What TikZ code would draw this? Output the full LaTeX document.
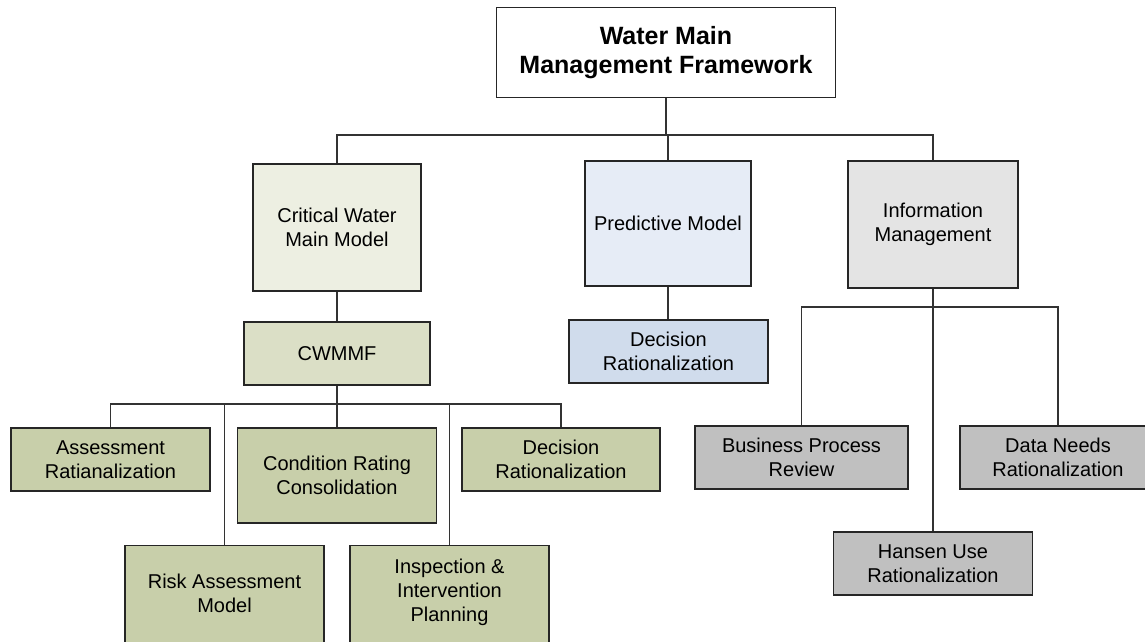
\documentclass[tikz,border=0pt]{standalone}
\usepackage{fontspec}
\setmainfont{Liberation Sans}
\definecolor{edgec}{HTML}{262626}
\definecolor{linec}{HTML}{333333}
\definecolor{cream}{HTML}{EDEFE2}
\definecolor{sage}{HTML}{DBDFC6}
\definecolor{olive}{HTML}{C8CFAA}
\definecolor{paleblue}{HTML}{E6ECF6}
\definecolor{midblue}{HTML}{D0DCEC}
\definecolor{palegray}{HTML}{E4E4E4}
\definecolor{midgray}{HTML}{C0C0C0}
\tikzset{
  box/.style={draw=edgec, line width=1.4pt, inner sep=0pt, align=center,
    font=\fontsize{20}{24}\selectfont},
  txt/.style={inner sep=0pt, align=center, font=\fontsize{20}{24}\selectfont},
  wire/.style={draw=linec, line width=1.3pt},
}
\begin{document}
\begin{tikzpicture}[x=1pt, y=-1pt]
\clip (0,0) rectangle (1145,642);
\fill[white] (0,0) rectangle (1145,642);

% root
\node[box, fill=white, minimum width=339, minimum height=90,
  font=\bfseries\fontsize{25}{29}\selectfont] (root) at (666,52.5)
  {Water Main\\Management Framework};

% second level
\node[box, fill=cream, minimum width=168, minimum height=127] (cwm) at (337,227.5)
  {Critical Water\\Main Model};
\node[box, fill=paleblue, minimum width=166, minimum height=125] (pm) at (668,223.5)
  {Predictive Model};
\node[box, fill=palegray, minimum width=170, minimum height=127] (im) at (933,224.5)
  {Information\\Management};

% third level
\node[box, fill=sage, minimum width=186, minimum height=63] (cwmmf) at (337,353.5)
  {CWMMF};
\node[box, fill=midblue, minimum width=199, minimum height=63] (drb) at (668.5,351.5)
  {Decision\\Rationalization};

% CWMMF children
\node[box, fill=olive, minimum width=199, minimum height=63] (ar) at (110.5,459.5)
  {Assessment\\Ratianalization};
\node[box, fill=olive, minimum width=199, minimum height=95] (crc) at (337,475.5)
  {Condition Rating\\Consolidation};
\node[box, fill=olive, minimum width=198, minimum height=63] (drg) at (561,459.5)
  {Decision\\Rationalization};
\node[box, fill=olive, minimum width=199, minimum height=150, anchor=north] (ram) at (224.5,545) {};
\node[txt] (ramt) at (224.5,593) {Risk Assessment\\Model};
\node[box, fill=olive, minimum width=199, minimum height=150, anchor=north] (iip) at (449.5,545) {};
\node[txt] (iipt) at (449.5,592.5) {Inspection \&\\Intervention\\Planning};

% information management children
\node[box, fill=midgray, minimum width=213, minimum height=63] (bpr) at (801.5,457.5)
  {Business Process\\Review};
\node[box, fill=midgray, minimum width=196, minimum height=63] (dnr) at (1058,457.5)
  {Data Needs\\Rationalization};
\node[box, fill=midgray, minimum width=199, minimum height=63] (hur) at (933,563.5)
  {Hansen Use\\Rationalization};

% bus points
\coordinate (busa) at (666,135);
\coordinate (busb) at (337,404);
\coordinate (busc) at (933,307);

% root to second level
\draw[wire] (root.south) -- (busa);
\draw[wire] (cwm.north) |- (busa) -| (im.north);
\draw[wire] (pm.north) -- (pm.north |- busa);

% second to third level
\draw[wire] (cwm.south) -- (cwmmf.north);
\draw[wire] (pm.south) -- (pm.south |- drb.north);

% CWMMF branch
\draw[wire] (cwmmf.south) -- (busb);
\draw[wire] (ar.north) |- (busb) -| (drg.north);
\draw[wire] (crc.north) -- (busb);
\draw[wire] (ram.north) -- (ram.north |- busb);
\draw[wire] (iip.north) -- (iip.north |- busb);

% information management branch
\draw[wire] (im.south) -- (hur.north);
\draw[wire] (bpr.north) |- (busc) -| (dnr.north);
\end{tikzpicture}
\end{document}
